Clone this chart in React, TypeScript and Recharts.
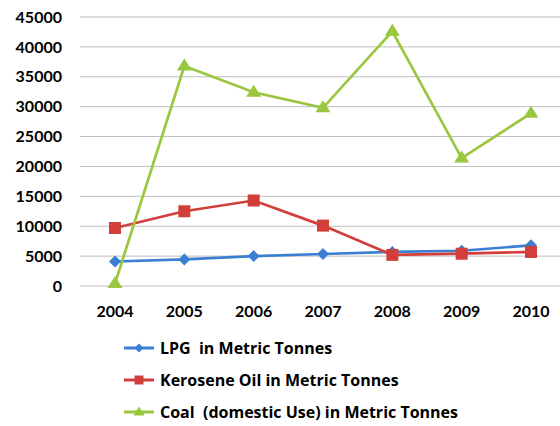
import React from 'react';
import { LineChart, Line, XAxis, YAxis, CartesianGrid, Legend } from 'recharts';

const years = ['2004', '2005', '2006', '2007', '2008', '2009', '2010'];
const lpg = [4100, 4450, 5000, 5350, 5700, 5900, 6800];
const kerosene = [9700, 12500, 14300, 10100, 5200, 5400, 5700];
const coal = [400, 36800, 32400, 29800, 42600, 21400, 28900];
const yTicks = [0, 5000, 10000, 15000, 20000, 25000, 30000, 35000, 40000, 45000];

const series = [
  { key: 'lpg', name: 'LPG  in Metric Tonnes', color: '#3b7fd3', shape: 'diamond' },
  { key: 'kerosene', name: 'Kerosene Oil in Metric Tonnes', color: '#d23f3b', shape: 'square' },
  { key: 'coal', name: 'Coal  (domestic Use) in Metric Tonnes', color: '#9ac73f', shape: 'triangle' },
];

const data = years.map((year, i) => ({
  year,
  lpg: lpg[i],
  kerosene: kerosene[i],
  coal: coal[i],
}));

const FONT = 'Lato, "Open Sans", sans-serif';
const LEGEND_FONT = '"Open Sans", Lato, sans-serif';

const markerPath = (shape: string, cx: number, cy: number, s = 1) => {
  if (shape === 'diamond') {
    const r = 6 * s;
    return `M${cx},${cy - r}L${cx + r},${cy}L${cx},${cy + r}L${cx - r},${cy}Z`;
  }
  if (shape === 'square') {
    const r = 6 * s;
    return `M${cx - r},${cy - r}h${2 * r}v${2 * r}h${-2 * r}Z`;
  }
  const r = 7.5 * s;
  return `M${cx},${cy - r}L${cx + r},${cy + r * 0.6}L${cx - r},${cy + r * 0.6}Z`;
};

const makeDot = (shape: string, color: string) => (props: any) => {
  const { cx, cy, index } = props;
  if (cx == null || cy == null) return <g key={`d-${shape}-${index}`} />;
  return <path key={`d-${shape}-${index}`} d={markerPath(shape, cx, cy)} fill={color} stroke="none" />;
};

const LegendContent = () => (
  <div style={{ fontFamily: LEGEND_FONT, fontWeight: 700, fontSize: 16, color: '#000' }}>
    {series.map((s) => (
      <div key={s.key} style={{ display: 'flex', alignItems: 'center', height: 32 }}>
        <svg width={30} height={14} style={{ marginRight: 6 }}>
          <line x1={0} y1={7} x2={30} y2={7} stroke={s.color} strokeWidth={3} />
          <path d={markerPath(s.shape, 15, 7, 0.75)} fill={s.color} />
        </svg>
        <span style={{ whiteSpace: 'pre' }}>{s.name}</span>
      </div>
    ))}
  </div>
);

export default function App() {
  return (
    <div style={{ position: 'absolute', left: 0, top: 0, width: 560, height: 426, overflow: 'hidden', background: '#fff' }}>
      <LineChart width={566} height={426} data={data} margin={{ top: 17, right: 0, bottom: 10, left: 0 }}>
        <CartesianGrid vertical={false} stroke="#bdbdbd" strokeWidth={1} />
        <XAxis
          dataKey="year"
          axisLine={false}
          tickLine={false}
          tickMargin={14}
          height={30}
          interval={0}
          padding={{ left: 35, right: 35 }}
          tick={{ fontFamily: FONT, fontWeight: 700, fontSize: 16, fill: '#000' }}
        />
        <YAxis
          width={80}
          domain={[0, 45000]}
          ticks={yTicks}
          axisLine={false}
          tickLine={false}
          tickMargin={12}
          interval={0}
          tick={{ fontFamily: FONT, fontWeight: 700, fontSize: 16, fill: '#000' }}
        />
        <Legend
          layout="vertical"
          align="center"
          verticalAlign="bottom"
          content={<LegendContent />}
          wrapperStyle={{ left: 124, top: 332, width: 'auto', height: 100 }}
        />
        {series.map((s) => (
          <Line
            key={s.key}
            dataKey={s.key}
            name={s.name}
            stroke={s.color}
            strokeWidth={2.7}
            dot={makeDot(s.shape, s.color)}
            activeDot={false}
            isAnimationActive={false}
          />
        ))}
      </LineChart>
    </div>
  );
}
